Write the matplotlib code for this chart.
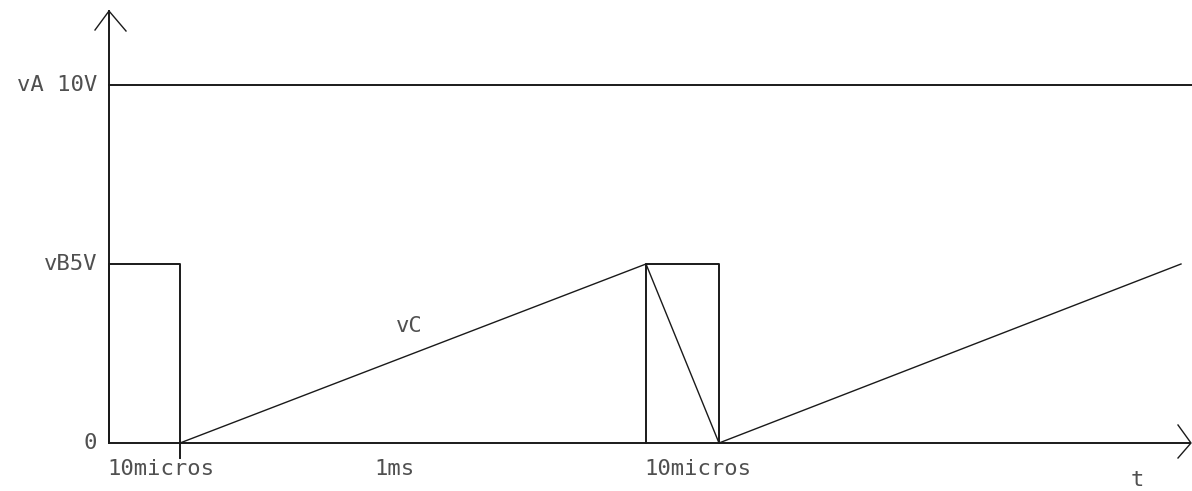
import matplotlib
matplotlib.use("Agg")
import matplotlib.pyplot as plt

# schematic time units (not to scale) and volts
va_level = 10
vb_level = 5

pulse1_t = [0, 0, 71, 71]
pulse1_v = [0, 5, 5, -0.42]

ramp1_t = [71, 537]
ramp1_v = [0, 5]

pulse2_t = [537, 537, 610, 610]
pulse2_v = [0, 5, 5, 0]

fall_t = [537, 610]
fall_v = [5, 0]

ramp2_t = [610, 1072]
ramp2_v = [0, 5]

time_labels = ["10micros", "1ms", "10micros"]
time_label_x = [-2, 265, 535]

level_labels = ["vA 10V", "vB5V", "0"]
level_label_v = [10, 5, 0]

ink = "#1a1a1a"
txt = "#505050"
mono = "DejaVu Sans Mono"
fs = 16

fig = plt.figure(figsize=(11.92, 4.91), dpi=100)
ax = fig.add_axes([0, 0, 1, 1])
ax.set_xlim(-109, 1083)
ax.set_ylim(-48 / 179 * 5, 443 / 179 * 5)
ax.axis("off")

# axes with open arrowheads
ax.plot([0, 0], [0, 432 / 179 * 5], color=ink, lw=1.4)
ax.plot([-14, 0, 17], [413 / 179 * 5, 432 / 179 * 5, 412 / 179 * 5], color=ink, lw=1.0)
ax.plot([0, 1081], [0, 0], color=ink, lw=1.4)
ax.plot([1069, 1082, 1069], [18 / 179 * 5, 0, -15 / 179 * 5], color=ink, lw=1.0)

# vA
ax.plot([0, 1083], [va_level, va_level], color=ink, lw=1.4)

# vB pulses
ax.plot(pulse1_t, pulse1_v, color=ink, lw=1.4)
ax.plot(pulse2_t, pulse2_v, color=ink, lw=1.4)

# vC ramps
ax.plot(ramp1_t, ramp1_v, color=ink, lw=1.0)
ax.plot(fall_t, fall_v, color=ink, lw=1.0)
ax.plot(ramp2_t, ramp2_v, color=ink, lw=1.0)

for lab, v in zip(level_labels, level_label_v):
    ax.text(-12, v, lab, ha="right", va="center", fontsize=fs,
            family=mono, color=txt)

for lab, x in zip(time_labels, time_label_x):
    ax.text(x, -26 / 179 * 5, lab, ha="left", va="center", fontsize=fs,
            family=mono, color=txt)

ax.text(300, 117 / 179 * 5, "vC", ha="center", va="center", fontsize=fs,
        family=mono, color=txt)
ax.text(1028, -37 / 179 * 5, "t", ha="center", va="center", fontsize=fs,
        family=mono, color=txt)

fig.savefig("out.png", dpi=100)
